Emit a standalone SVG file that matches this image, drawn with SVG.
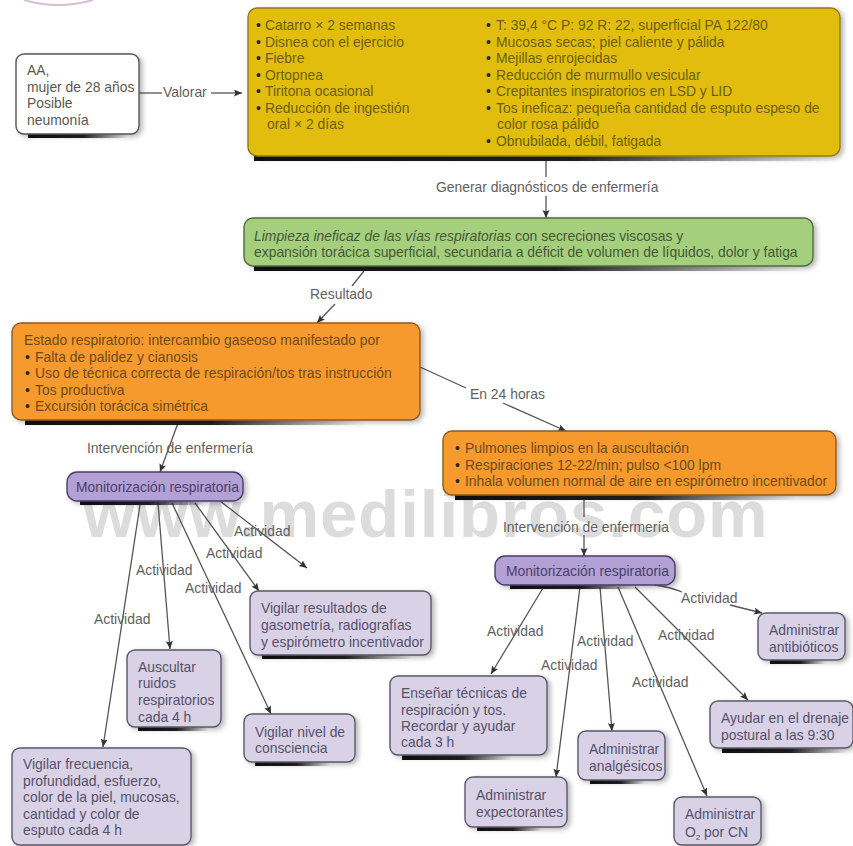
<svg xmlns="http://www.w3.org/2000/svg" width="853" height="846" viewBox="0 0 853 846">
<style>
text{font-family:"Liberation Sans",Arial,sans-serif;font-size:13.9px;fill:#5a584e}
.wm{font-size:67px;font-weight:bold;fill:#dcdcdc;letter-spacing:1px}
.lb{fill:#5f5f5f}
.y text{fill:#6b5f10}.g text{fill:#44573a}.o text{fill:#6e4a1a}.p text{fill:#4a3f6c}.l text{fill:#55506a}
.b{fill:#2a2520}
.c line,.c path{stroke:#555;stroke-width:1.3;fill:none}
.m{marker-end:url(#ah)}
.box{stroke-width:1.4;filter:url(#sd)}
.y rect.box{fill:#e2bd0c;stroke:#8f7a1c}
.g rect.box{fill:#a6cf7d;stroke:#4f6b45}
.o rect.box{fill:#f79a2d;stroke:#8d5c26}
.p rect.box{fill:#b3a0d4;stroke:#4a3d68}
.l rect.box{fill:#d9d2e6;stroke:#5a5868}
.w rect.box{fill:#fff;stroke:#555}
.bar{fill:url(#fade)}
</style>
<defs>
<linearGradient id="fade"><stop offset="0" stop-color="#111"/><stop offset=".55" stop-color="#222"/><stop offset="1" stop-color="#222" stop-opacity="0"/></linearGradient>
<filter id="sd" x="-10%" y="-20%" width="125%" height="150%"><feDropShadow dx="3" dy="2" stdDeviation="2.5" flood-color="#000" flood-opacity=".28"/></filter>
<marker id="ah" markerWidth="9" markerHeight="8" refX="8" refY="3.5" orient="auto" markerUnits="userSpaceOnUse"><path d="M0 0L8 3.5L0 7L1.5 3.5Z" fill="#333"/></marker>
</defs>
<rect width="853" height="846" fill="#fff"/>
<path d="M24 0Q58 10 93 0" fill="none" stroke="#d9bcd6" stroke-width="2"/>
<text class="wm" x="83" y="537">www.medilibros.com</text>
<g id="connectors" class="c">
<line x1="139" y1="93" x2="162" y2="93"/><line class="m" x1="211" y1="93" x2="242" y2="93"/>
<line x1="546" y1="157" x2="546" y2="177"/><line class="m" x1="546" y1="196" x2="546" y2="218"/>
<line x1="364" y1="271" x2="352" y2="286"/><line class="m" x1="335" y1="304" x2="317" y2="323"/>
<line x1="420" y1="367" x2="466" y2="388"/><line class="m" x1="503" y1="403" x2="566" y2="431"/>
<line class="m" x1="178" y1="423" x2="160" y2="472"/>
<line x1="584" y1="497" x2="584" y2="517"/><line class="m" x1="584" y1="535" x2="584" y2="556"/>
<line class="m" x1="140" y1="505" x2="103" y2="747"/>
<line class="m" x1="158" y1="503" x2="170" y2="649"/>
<line class="m" x1="172" y1="503" x2="271" y2="714"/>
<line class="m" x1="195" y1="503" x2="259" y2="591"/>
<line class="m" x1="220" y1="501" x2="307" y2="568"/>
<line class="m" x1="543" y1="588" x2="491" y2="674"/>
<line class="m" x1="580" y1="587" x2="556" y2="777"/>
<line class="m" x1="600" y1="587" x2="612" y2="731"/>
<line class="m" x1="618" y1="587" x2="707" y2="796"/>
<line class="m" x1="635" y1="587" x2="748" y2="700"/>
<path class="m" d="M655 585Q670 587 682 592M730 605L762 613"/>
<text class="lb" x="163" y="97">Valorar</text>
<text class="lb" x="436" y="192">Generar diagnósticos de enfermería</text>
<text class="lb" x="310" y="299">Resultado</text>
<text class="lb" x="470" y="399">En 24 horas</text>
<text class="lb" x="87" y="453">Intervención de enfermería</text>
<text class="lb" x="503" y="532">Intervención de enfermería</text>
<text class="lb" x="94" y="624">Actividad</text>
<text class="lb" x="136" y="575">Actividad</text>
<text class="lb" x="185" y="593">Actividad</text>
<text class="lb" x="206" y="558">Actividad</text>
<text class="lb" x="234" y="536">Actividad</text>
<text class="lb" x="487" y="636">Actividad</text>
<text class="lb" x="541" y="670">Actividad</text>
<text class="lb" x="577" y="646">Actividad</text>
<text class="lb" x="632" y="687">Actividad</text>
<text class="lb" x="658" y="640">Actividad</text>
<text class="lb" x="681" y="603">Actividad</text>
</g>
<g id="n-paciente" class="w"><rect class="bar" x="28" y="130" width="100" height="8"/><rect class="box" x="16" y="54" width="123" height="80" rx="8"/>
<text x="27" y="75">AA,</text><text x="27" y="92">mujer de 28 años</text><text x="27" y="108">Posible</text><text x="27" y="125">neumonía</text></g>
<g id="n-valoracion" class="y"><rect class="bar" x="254" y="152" width="580" height="9"/><rect class="box" x="248" y="8" width="592" height="148" rx="9"/>
<text y="30"><tspan class="b" x="256">•</tspan><tspan x="265">Catarro × 2 semanas</tspan></text>
<text y="46.5"><tspan class="b" x="256">•</tspan><tspan x="265">Disnea con el ejercicio</tspan></text>
<text y="63"><tspan class="b" x="256">•</tspan><tspan x="265">Fiebre</tspan></text>
<text y="79.5"><tspan class="b" x="256">•</tspan><tspan x="265">Ortopnea</tspan></text>
<text y="96"><tspan class="b" x="256">•</tspan><tspan x="265">Tiritona ocasional</tspan></text>
<text y="112.5"><tspan class="b" x="256">•</tspan><tspan x="265">Reducción de ingestión</tspan></text>
<text x="267" y="129">oral × 2 días</text>
<text y="30"><tspan class="b" x="486">•</tspan><tspan x="496">T: 39,4 °C P: 92 R: 22, superficial PA 122/80</tspan></text>
<text y="46.5"><tspan class="b" x="486">•</tspan><tspan x="496">Mucosas secas; piel caliente y pálida</tspan></text>
<text y="63"><tspan class="b" x="486">•</tspan><tspan x="496">Mejillas enrojecidas</tspan></text>
<text y="79.5"><tspan class="b" x="486">•</tspan><tspan x="496">Reducción de murmullo vesicular</tspan></text>
<text y="96"><tspan class="b" x="486">•</tspan><tspan x="496">Crepitantes inspiratorios en LSD y LID</tspan></text>
<text y="112.5"><tspan class="b" x="486">•</tspan><tspan x="496">Tos ineficaz: pequeña cantidad de esputo espeso de</tspan></text>
<text x="497" y="129">color rosa pálido</text>
<text y="146"><tspan class="b" x="486">•</tspan><tspan x="496">Obnubilada, débil, fatigada</tspan></text></g>
<g id="n-diagnostico" class="g"><rect class="bar" x="254" y="262" width="550" height="9"/><rect class="box" x="244" y="218" width="569" height="48" rx="9"/>
<text x="254" y="241"><tspan font-style="italic">Limpieza ineficaz de las vías respiratorias</tspan> con secreciones viscosas y</text>
<text x="254" y="257">expansión torácica superficial, secundaria a déficit de volumen de líquidos, dolor y fatiga</text></g>
<g id="n-resultado" class="o"><rect class="bar" x="25" y="416" width="340" height="9"/><rect class="box" x="12" y="323" width="408" height="97" rx="9"/>
<text x="24" y="345">Estado respiratorio: intercambio gaseoso manifestado por</text>
<text y="361.5"><tspan class="b" x="25">•</tspan><tspan x="35">Falta de palidez y cianosis</tspan></text>
<text y="378"><tspan class="b" x="25">•</tspan><tspan x="35">Uso de técnica correcta de respiración/tos tras instrucción</tspan></text>
<text y="394.5"><tspan class="b" x="25">•</tspan><tspan x="35">Tos productiva</tspan></text>
<text y="411"><tspan class="b" x="25">•</tspan><tspan x="35">Excursión torácica simétrica</tspan></text></g>
<g id="n-resultado24" class="o"><rect class="bar" x="455" y="491" width="340" height="9"/><rect class="box" x="443" y="431" width="393" height="64" rx="9"/>
<text y="453"><tspan class="b" x="455">•</tspan><tspan x="465">Pulmones limpios en la auscultación</tspan></text>
<text y="469.5"><tspan class="b" x="455">•</tspan><tspan x="465">Respiraciones 12-22/min; pulso &lt;100 lpm</tspan></text>
<text y="486"><tspan class="b" x="455">•</tspan><tspan x="465">Inhala volumen normal de aire en espirómetro incentivador</tspan></text></g>
<g id="n-monitor1" class="p"><rect class="bar" x="80" y="497" width="125" height="8"/><rect class="box" x="67" y="472" width="176" height="29" rx="10"/><text x="76" y="492">Monitorización respiratoria</text></g>
<g id="n-monitor2" class="p"><rect class="bar" x="510" y="581" width="130" height="8"/><rect class="box" x="495" y="556" width="180" height="29" rx="10"/><text x="506" y="576">Monitorización respiratoria</text></g>
<g id="n-gasometria" class="l"><rect class="bar" x="262" y="651" width="150" height="8"/><rect class="box" x="250" y="591" width="181" height="64" rx="8"/>
<text x="261" y="613">Vigilar resultados de</text><text x="261" y="630">gasometría, radiografías</text><text x="261" y="647">y espirómetro incentivador</text></g>
<g id="n-auscultar" class="l"><rect class="bar" x="138" y="723" width="70" height="8"/><rect class="box" x="127" y="650" width="94" height="77" rx="8"/>
<text x="138" y="672">Auscultar</text><text x="138" y="688">ruidos</text><text x="138" y="705">respiratorios</text><text x="138" y="722">cada 4 h</text></g>
<g id="n-consciencia" class="l"><rect class="bar" x="255" y="758" width="75" height="8"/><rect class="box" x="244" y="714" width="111" height="48" rx="8"/>
<text x="255" y="737">Vigilar nivel de</text><text x="255" y="753">consciencia</text></g>
<g id="n-frecuencia" class="l"><rect class="box" x="12" y="748" width="179" height="97" rx="8"/>
<text x="23" y="769">Vigilar frecuencia,</text><text x="23" y="786">profundidad, esfuerzo,</text><text x="23" y="802">color de la piel, mucosas,</text><text x="23" y="819">cantidad y color de</text><text x="23" y="835">esputo cada 4 h</text></g>
<g id="n-ensenar" class="l"><rect class="bar" x="402" y="751" width="110" height="9"/><rect class="box" x="390" y="676" width="157" height="79" rx="8"/>
<text x="401" y="698">Enseñar técnicas de</text><text x="401" y="714.5">respiración y tos.</text><text x="401" y="731">Recordar y ayudar</text><text x="401" y="747">cada 3 h</text></g>
<g id="n-expectorantes" class="l"><rect class="bar" x="477" y="823" width="65" height="8"/><rect class="box" x="465" y="777" width="102" height="50" rx="8"/>
<text x="476" y="800">Administrar</text><text x="476" y="817">expectorantes</text></g>
<g id="n-analgesicos" class="l"><rect class="bar" x="590" y="776" width="55" height="8"/><rect class="box" x="578" y="731" width="87" height="49" rx="8"/>
<text x="589" y="754">Administrar</text><text x="589" y="771">analgésicos</text></g>
<g id="n-oxigeno" class="l"><rect class="box" x="674" y="797" width="87" height="48" rx="8"/>
<text x="685" y="819">Administrar</text><text x="685" y="837">O<tspan dy="3" font-size="8">2</tspan><tspan dy="-3"> por CN</tspan></text></g>
<g id="n-drenaje" class="l"><rect class="bar" x="722" y="744" width="125" height="9"/><rect class="box" x="710" y="701" width="143" height="47" rx="8"/>
<text x="721" y="723">Ayudar en el drenaje</text><text x="721" y="740">postural a las 9:30</text></g>
<g id="n-antibioticos" class="l"><rect class="bar" x="770" y="656" width="55" height="8"/><rect class="box" x="758" y="613" width="87" height="47" rx="8"/>
<text x="769" y="635">Administrar</text><text x="769" y="652">antibióticos</text></g>
</svg>
